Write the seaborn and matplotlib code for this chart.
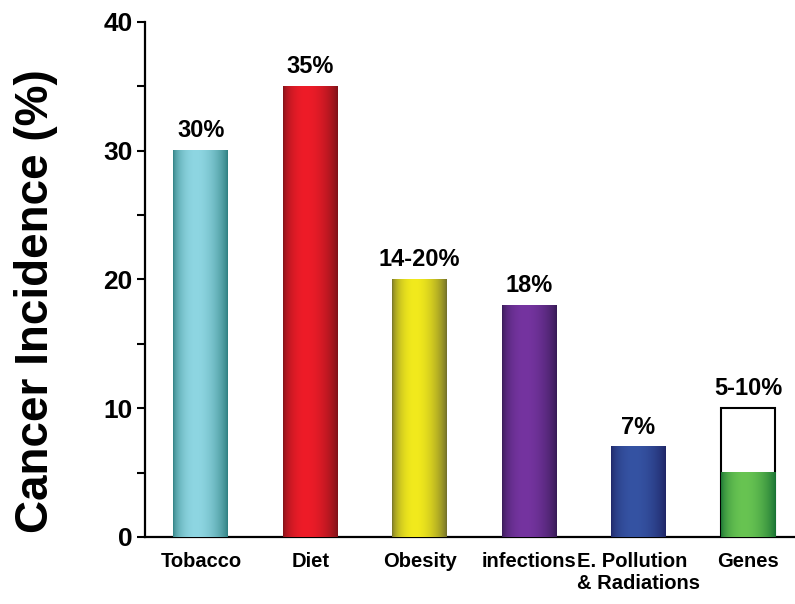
import numpy as np
import pandas as pd
import matplotlib
matplotlib.use("Agg")
import matplotlib.pyplot as plt
import seaborn as sns
from matplotlib.colors import to_rgb
from matplotlib.ticker import MultipleLocator

factors = ["Tobacco", "Diet", "Obesity", "infections", "E. Pollution\n& Radiations", "Genes"]
incidence = [30, 35, 20, 18, 7, 5]
upper_range = [30, 35, 20, 18, 7, 10]
bar_labels = ["30%", "35%", "14-20%", "18%", "7%", "5-10%"]
edge_colors = ["#2c7d7e", "#7a1218", "#6e6c2c", "#341a52", "#1e2464", "#156e32"]
center_colors = ["#8ed6e2", "#ee1c28", "#f2ea1c", "#7534a0", "#3553a3", "#68c452"]

sns.set_style("ticks")
plt.rcParams["font.family"] = ["Liberation Sans", "DejaVu Sans"]
plt.rcParams["font.weight"] = "bold"
plt.rcParams["text.color"] = "black"
plt.rcParams["xtick.color"] = "black"
plt.rcParams["ytick.color"] = "black"
plt.rcParams["axes.labelcolor"] = "black"
plt.rcParams["axes.edgecolor"] = "black"

df = pd.DataFrame({"factor": factors, "value": incidence, "upper": upper_range})
df_up = df[df["upper"] > df["value"]]

fig = plt.figure(figsize=(7.95, 6.04), dpi=100)
ax = fig.add_axes([0.1824, 0.111, 0.8176, 0.8526])

# outline box for the range part (Genes 5-10%)
sns.barplot(data=df_up, x="factor", y="upper", order=factors, color="white",
            edgecolor="black", linewidth=1.5, width=0.5, ax=ax)
n_up = len(ax.patches)
sns.barplot(data=df, x="factor", y="value", order=factors, color="white",
            linewidth=0, width=0.5, ax=ax)

# cylinder-like shading
t = np.linspace(0, 1, 200)
shade = np.sin(np.pi * t ** 0.8) ** 0.7
for patch, c0, c1 in zip(ax.patches[n_up:], edge_colors, center_colors):
    a, b = np.array(to_rgb(c0)), np.array(to_rgb(c1))
    grad = a[None, :] + (b - a)[None, :] * shade[:, None]
    x0, w, h = patch.get_x(), patch.get_width(), patch.get_height()
    ax.imshow(grad[None, :, :], extent=[x0, x0 + w, 0, h], aspect="auto",
              interpolation="bilinear", zorder=3)

for i, lab in enumerate(bar_labels):
    ax.annotate(lab, (i, upper_range[i]), xytext=(0, 6), textcoords="offset points",
                ha="center", va="bottom", fontsize=17, fontweight="bold")

ax.set_xlim(-0.51, 5.43)
ax.set_ylim(0, 40)
ax.yaxis.set_major_locator(MultipleLocator(10))
ax.yaxis.set_minor_locator(MultipleLocator(5))
ax.tick_params(axis="y", which="both", length=5.5, width=1.5, direction="out", pad=3.5,
               labelsize=19)
ax.tick_params(axis="x", length=0, pad=11, labelsize=14.5)
for lbl in ax.get_xticklabels():
    lbl.set_multialignment("left")
    lbl.set_fontweight("bold")
for lbl in ax.get_yticklabels():
    lbl.set_fontweight("bold")

sns.despine(ax=ax)
ax.spines["left"].set_linewidth(1.6)
ax.spines["bottom"].set_linewidth(1.6)
ax.set_xlabel("")
ax.set_ylabel("Cancer Incidence (%)", fontsize=33, fontweight="bold")
ax.yaxis.set_label_coords(-0.1346, 0.458)

fig.savefig("out.png", dpi=100)
